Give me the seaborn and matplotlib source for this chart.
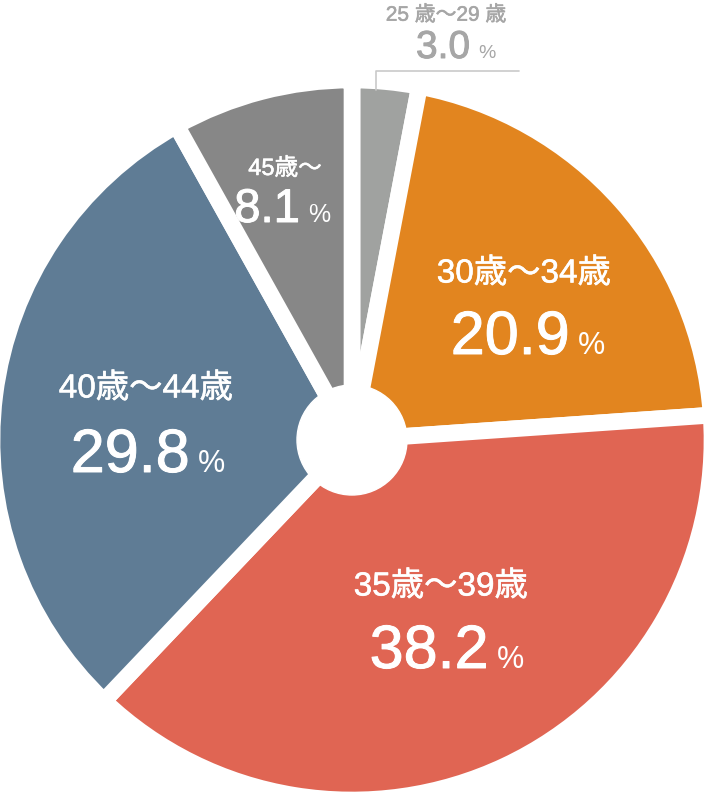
import matplotlib.pyplot as plt
import matplotlib.patheffects as pe
import seaborn as sns
from matplotlib.patches import Circle

# data
ages = ['25 歳～29 歳', '30歳～34歳', '35歳～39歳', '40歳～44歳', '45歳～']
shares = [3.0, 20.9, 38.2, 29.8, 8.1]
colors = ['#a0a2a0', '#e2851f', '#e06553', '#5f7c95', '#878787']
text_colors = ['#a6a6a6', 'white', 'white', 'white', 'white']

sns.set_theme(style='white')
plt.rcParams['font.family'] = ['Liberation Sans', 'Noto Sans CJK JP', 'DejaVu Sans']

fig = plt.figure(figsize=(7.04, 7.94), dpi=100)
ax = fig.add_axes([0, 0, 1, 1])

# pixel coordinates, y axis pointing down -> start at -90 and go "counterclock" (looks clockwise)
cx, cy = 352, 440
ax.pie(shares, colors=colors, startangle=-90, counterclock=True,
       center=(cx, cy), radius=360,
       wedgeprops=dict(edgecolor='white', linewidth=12))
ax.add_patch(Circle((cx, cy), 55, color='white', zorder=5))
ax.set_xlim(0, 704)
ax.set_ylim(794, 0)
ax.set_aspect('auto')
ax.axis('off')

# leader line for the small slice
ax.plot([376, 376, 519], [90, 71, 71], color='#c9c9c9', lw=1.2, zorder=6)

# labels
label_xy = [(446, 15), (524, 274), (441, 587), (146, 389), (285, 169)]
num_base = [58, 354, 668, 472, 222]
split_x = [470, 570, 489, 190, 300]
age_fs = [15, 24, 24, 24, 17]
num_fs = [28, 44, 44, 44, 34]
pct_fs = [14, 22, 22, 22, 18]

for i in range(len(ages)):
    x, y = label_xy[i]
    c = text_colors[i]
    ax.text(x, y, ages[i], ha='center', va='center', color=c,
            fontsize=age_fs[i], zorder=7,
            path_effects=[pe.withStroke(linewidth=0.4, foreground=c)])
    ax.text(split_x[i], num_base[i], f'{shares[i]:.1f}', ha='right', va='baseline',
            color=c, fontsize=num_fs[i], zorder=7,
            path_effects=[pe.withStroke(linewidth=0.7, foreground=c)])
    ax.text(split_x[i] + 8, num_base[i], '%', ha='left', va='baseline',
            color=c, fontsize=pct_fs[i], zorder=7)

plt.savefig('out.png', dpi=100)
